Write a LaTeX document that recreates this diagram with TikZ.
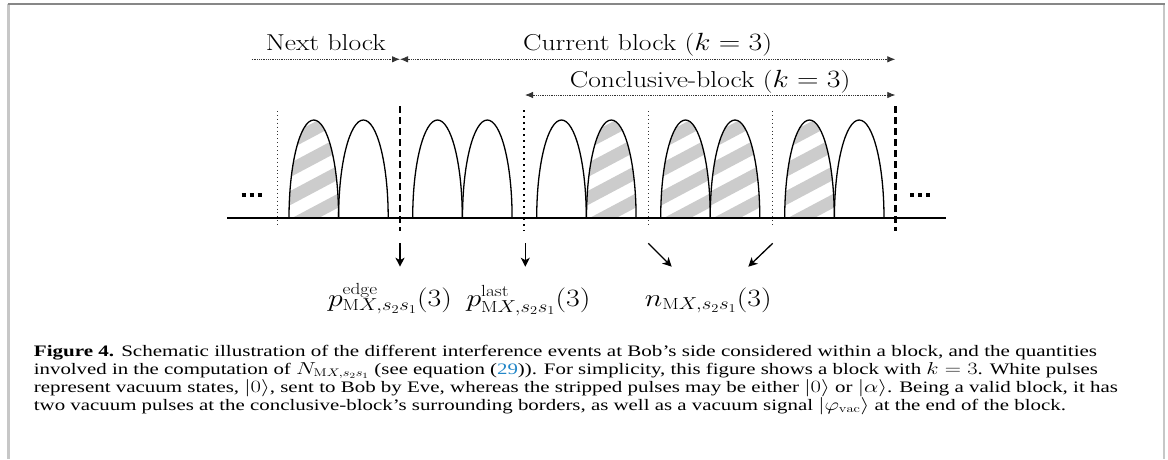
\documentclass[tikz,border=0pt]{standalone}
\usepackage{fontspec}
\usepackage{graphicx}
\usetikzlibrary{arrows.meta}
\newfontfamily\capfont{Liberation Serif}
\definecolor{linkblue}{RGB}{35,135,200}
\definecolor{hatchgray}{RGB}{204,204,204}
\newcommand\pulseshape[1]{(#1,218) arc[start angle=180,end angle=360,x radius=24.8,y radius=98]}
\newcommand\wide[1]{\scalebox{1.2}[1]{#1}}
\tikzset{
  pulseline/.style={line width=1.3pt,black},
  stripe/.style={line width=12.5pt,hatchgray},
  thindot/.style={line width=0.9pt,black!80,dash pattern=on 0.9pt off 3pt},
  thickdot/.style={line width=2pt,black,dash pattern=on 2pt off 4pt},
  sepdash/.style={line width=2.5pt,black,dash pattern=on 7pt off 4pt},
  dotarrow/.style={line width=0.8pt,black!80,dash pattern=on 0.8pt off 1pt,
     arrows={-}, >={Latex[length=8pt,width=6.5pt]}},
  botarrow/.style={line width=1.3pt,black,-{Stealth[length=9pt,width=9pt,inset=2.5pt]}},
  toplabel/.style={inner sep=0pt,anchor=base,font=\fontsize{23}{27}\selectfont},
  botlabel/.style={inner sep=0pt,anchor=base,font=\fontsize{23}{27}\selectfont},
  capline/.style={inner sep=0pt,anchor=base west,font=\capfont\fontsize{16}{18}\selectfont},
}
\begin{document}
\begin{tikzpicture}[x=1pt,y=-1pt]
\useasboundingbox (0,0) rectangle (1168,459);
% frame
\draw[line width=2.2pt,black!22] (8.5,4) -- (8.5,459);
\draw[line width=2pt,black!22] (1163.5,4) -- (1163.5,459);
\draw[line width=1.5pt,black!47] (7.5,4) -- (1164.5,4);
% hatched pulses
\foreach \x in {289,586.5,660.7,710.2,784.7}{
  \begin{scope}
    \clip \pulseshape{\x} -- cycle;
    \foreach \k in {-1,...,7}
      \draw[stripe] (\x-10,232-28*\k) -- ++(75,-39.8);
  \end{scope}
}
% pulse outlines
\foreach \x in {289,338.6,412.7,462.5,536.7,586.5,660.7,710.2,784.7,834.4}
  \draw[pulseline] \pulseshape{\x};
% base line
\draw[line width=2.2pt] (227.3,218) -- (945.7,218);
% separators
\draw[thindot] (277.3,111) -- (277.3,227);
\draw[sepdash] (400,106) -- (400,231);
\draw[thickdot] (523.8,110) -- (523.8,231);
\draw[thindot] (648.3,111) -- (648.3,227);
\draw[thindot] (772.7,111) -- (772.7,227);
\draw[sepdash] (895.3,106) -- (895.3,231);
% ellipses
\draw[line width=3.8pt,dash pattern=on 4pt off 4pt] (241.7,194.7) -- (261.7,194.7);
\draw[line width=3.8pt,dash pattern=on 4pt off 4pt] (910,194.7) -- (930,194.7);
% top arrows
\coordinate (nb0) at (251.7,59.3);
\coordinate (nb1) at (400,59.3);
\coordinate (cb1) at (895.3,59.3);
\coordinate (cl0) at (525,95);
\coordinate (cl1) at (895.3,95);
\draw[dotarrow,->] (nb0) -- (nb1);
\draw[dotarrow,<->] (nb1) -- (cb1);
\draw[dotarrow,<->] (cl0) -- (cl1);
\node[toplabel] (lnext) at (325.8,50) {\wide{Next block}};
\node[toplabel] (lcur) at (647.6,50) {\wide{Current block ($k=3$)}};
\node[toplabel] (lcon) at (710.1,87) {\wide{Conclusive-block ($k=3$)}};
% bottom arrows
\coordinate (a1s) at (400,243.3);   \coordinate (a1e) at (400,266.7);
\coordinate (a2s) at (525.3,243.3); \coordinate (a2e) at (525.3,266.7);
\coordinate (a3s) at (648.3,243.3); \coordinate (a3e) at (671.7,266.7);
\coordinate (a4s) at (772.7,243.3); \coordinate (a4e) at (748.3,266.7);
\draw[botarrow] (a1s) -- (a1e);
\draw[botarrow] (a2s) -- (a2e);
\draw[botarrow] (a3s) -- (a3e);
\draw[botarrow] (a4s) -- (a4e);
\node[botlabel] (pedge) at (390,306) {\wide{$p^{\mathrm{edge}}_{\mathrm{M}X,s_2s_1}(3)$}};
\node[botlabel] (plast) at (528.5,306) {\wide{$p^{\mathrm{last}}_{\mathrm{M}X,s_2s_1}(3)$}};
\node[botlabel] (nmx) at (708.3,306) {\wide{$n_{\mathrm{M}X,s_2s_1}(3)$}};
% caption
\node[capline] (cap1) at (33.7,356) {\resizebox{1063pt}{\height}{\textbf{Figure 4.} Schematic illustration of the different interference events at Bob’s side considered within a block, and the quantities}};
\node[capline] (cap2) at (33.7,374) {\resizebox{1064pt}{\height}{involved in the computation of $N_{\mathrm{M}X,s_2s_1}$ (see equation (\textcolor{linkblue}{29})). For simplicity, this figure shows a block with $k=3$. White pulses}};
\node[capline] (cap3) at (33.7,392) {\resizebox{1084pt}{\height}{represent vacuum states, $|0\rangle$, sent to Bob by Eve, whereas the stripped pulses may be either $|0\rangle$ or $|\alpha\rangle$. Being a valid block, it has}};
\node[capline] (cap4) at (33.7,410) {\resizebox{1032pt}{\height}{two vacuum pulses at the conclusive-block’s surrounding borders, as well as a vacuum signal $|\varphi_{\mathrm{vac}}\rangle$ at the end of the block.}};
\end{tikzpicture}
\end{document}
